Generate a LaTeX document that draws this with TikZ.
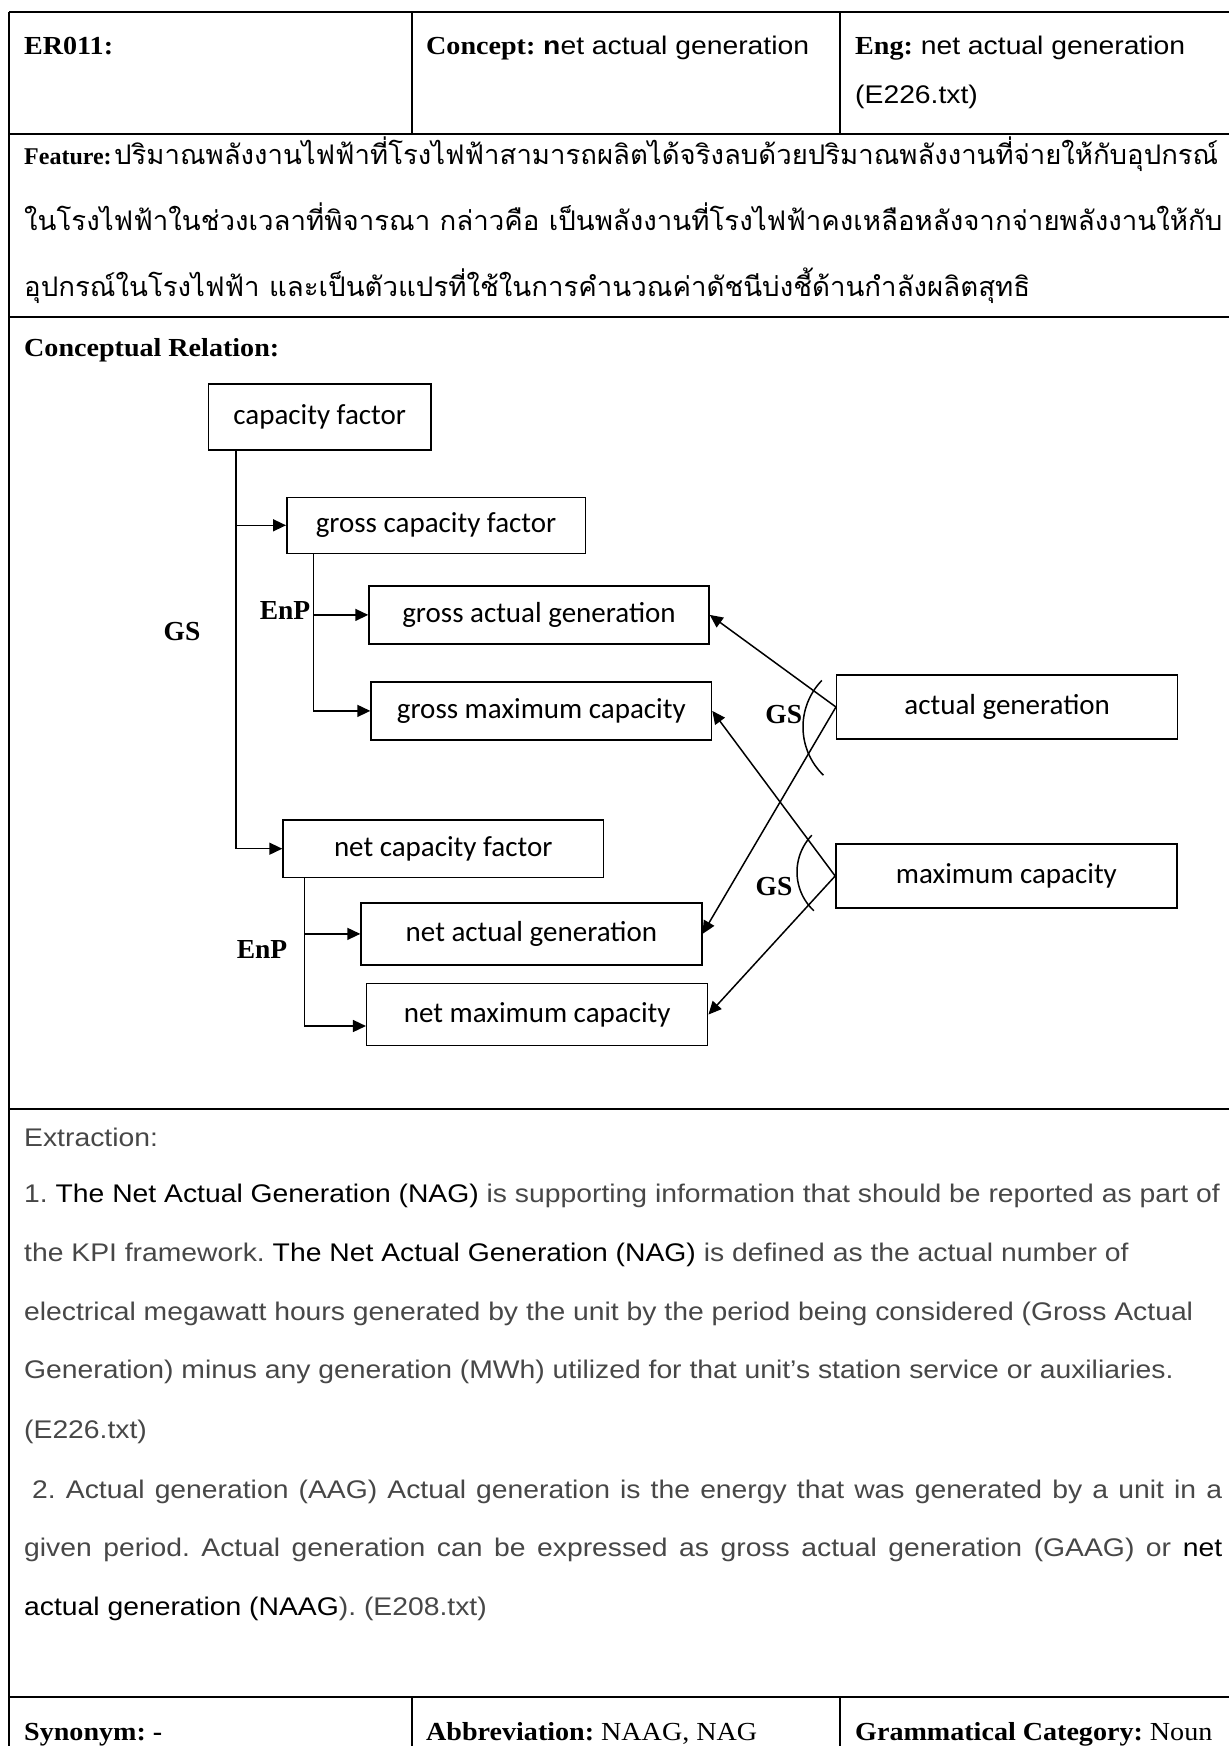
\documentclass[tikz,border=0pt]{standalone}
\usepackage{fontspec}
\usepackage{graphicx}
\usetikzlibrary{arrows.meta}
\setmainfont{Liberation Serif}
\newfontfamily\fSerif[FakeStretch=1.08]{Liberation Serif}
\newfontfamily\fSans[FakeStretch=1.11]{Liberation Sans}
\newfontfamily\fCal{Carlito}
\newfontfamily\fThai[Script=Thai]{Loma}

% set a one-line text and scale it horizontally to a given width (in pt)
\newlength\fitlen
\newcommand\fitto[2]{%
  \settowidth\fitlen{#2}%
  \pgfmathsetmacro\fitfac{#1/\fitlen}%
  \scalebox{\fitfac}[1]{#2}}

\colorlet{extgray}{black!72}
\newcommand\hdB[1]{{\fSerif\bfseries\fontsize{26}{30}\selectfont #1}}
\newcommand\blk[1]{\textcolor{black}{#1}}
\newcommand\thaiA{\fThai\fontsize{27}{30}\selectfont}
\newcommand\featTwo{ในโรงไฟฟ้าในช่วงเวลาที่พิจารณา กล่าวคือ เป็นพลังงานที่โรงไฟฟ้าคงเหลือหลังจากจ่ายพลังงานให้กับ}

\tikzset{
  tbl/.style={line width=1.5pt},
  txt/.style={inner sep=0pt, anchor=base west},
  sans/.style={font=\fSans\fontsize{25.5}{30}\selectfont},
  serif/.style={font=\fSerif\fontsize{26}{30}\selectfont},
  cbox/.style={draw, line width=1.5pt, inner sep=0pt,
    font=\fCal\fontsize{29}{32}\selectfont},
  rel/.style={inner sep=0pt, font=\bfseries\fontsize{27.5}{30}\selectfont},
  link/.style={line width=1.5pt},
  arr/.style={link, -{Triangle[length=13pt,width=12pt]}},
}

\begin{document}
\frenchspacing
% common horizontal factor for the Thai lines
\settowidth\fitlen{\thaiA\featTwo}%
\pgfmathsetmacro\thaifac{1198/\fitlen}%
\begin{tikzpicture}[x=1pt,y=-1pt]
\useasboundingbox (0,0) rectangle (1229,1746);

% ---- table rules ----
\draw[tbl] (9,12) -- (1229,12);
\draw[tbl] (9,12) -- (9,1746);
\foreach \yy in {134,317,1109,1697} \draw[tbl] (9,\yy) -- (1229,\yy);
\draw[tbl] (412,12) -- (412,134);
\draw[tbl] (840,12) -- (840,134);
\draw[tbl] (412,1697) -- (412,1746);
\draw[tbl] (840,1697) -- (840,1746);

% ---- header row ----
\node[txt, serif] (id) at (24,54) {\hdB{ER011:}};
\node[txt, sans] (concept) at (426,54) {\hdB{Concept:} {\bfseries n}et actual generation};
\node[txt, sans] (eng) at (855,54) {\hdB{Eng:} net actual generation};
\node[txt, sans] (engsrc) at (855,103) {(E226.txt)};

% ---- feature row ----
\node[txt] (feat1) at (24,164) {{\bfseries\fontsize{24}{28}\selectfont Feature:} \fitto{1104}{\thaiA ปริมาณพลังงานไฟฟ้าที่โรงไฟฟ้าสามารถผลิตได้จริงลบด้วยปริมาณพลังงานที่จ่ายให้กับอุปกรณ์}};
\node[txt] (feat2) at (24,230) {\scalebox{\thaifac}[1]{\thaiA\featTwo}};
\node[txt] (feat3) at (24,296) {\scalebox{\thaifac}[1]{\thaiA อุปกรณ์ในโรงไฟฟ้า และเป็นตัวแปรที่ใช้ในการคำนวณค่าดัชนีบ่งชี้ด้านกำลังผลิตสุทธิ}};

% ---- conceptual relation row ----
\node[txt, serif] (crel) at (24,356) {\bfseries Conceptual Relation:};

\node[cbox, minimum width=222.7pt, minimum height=66.3pt] (cf)  at (319.7,416.9) {capacity factor};
\node[cbox, minimum width=298.5pt, minimum height=56pt]   (gcf) at (436,525.3)   {gross capacity factor};
\node[cbox, minimum width=340pt,   minimum height=58.3pt] (gag) at (539,614.9)   {gross actual generation};
\node[cbox, minimum width=340.5pt, minimum height=58.3pt] (gmc) at (541.3,710.9) {gross maximum capacity};
\node[cbox, minimum width=320.3pt, minimum height=57.3pt] (ncf) at (443.2,848.7) {net capacity factor};
\node[cbox, minimum width=340.7pt, minimum height=62.3pt] (nag) at (531.4,933.9) {net actual generation};
\node[cbox, minimum width=341pt,   minimum height=62.4pt] (nmc) at (537.2,1014.5) {net maximum capacity};
\node[cbox, minimum width=341pt,   minimum height=64pt]   (ag)  at (1007.2,707)  {actual generation};
\node[cbox, minimum width=341pt,   minimum height=64pt]   (mc)  at (1006.4,876)  {maximum capacity};

% branch lines on the left
\coordinate (gsx) at (236,0);
\coordinate (e1x) at (313.5,0);
\coordinate (e2x) at (304.7,0);
\draw[arr] (cf.south -| gsx) |- (ncf.west);
\draw[arr] (gsx |- gcf.west) -- (gcf.west);
\draw[arr] (gcf.south -| e1x) |- (gmc.west);
\draw[arr] (e1x |- gag.west) -- (gag.west);
\draw[arr] (ncf.south -| e2x) |- ([yshift=-11.5pt]nmc.west);
\draw[arr] (e2x |- nag.west) -- (nag.west);

% relations from the generic concepts on the right
\draw[arr] (ag.west) -- (gag.east);
\draw[arr] (ag.west) -- (nag.east);
\draw[arr] (mc.west) -- (gmc.east);
\draw[arr] (mc.west) -- (nmc.east);

% arcs grouping the pairs of relations
\coordinate (arcA) at (870,727);
\coordinate (arcB) at (850,872);
\draw[link] (arcA) ++(134:67) arc[start angle=134, end angle=224, radius=67];
\draw[link] (arcB) ++(133:53) arc[start angle=133, end angle=224, radius=53];

% relation labels
\node[rel] (gs1) at (182,632) {GS};
\node[rel] (enp1) at (285,610) {EnP};
\node[rel] (enp2) at (262,949) {EnP};
\node[rel] (gs2) at (783.7,714.5) {GS};
\node[rel] (gs3) at (774,886.7) {GS};

% ---- extraction row ----
\begin{scope}[every node/.style={txt, sans, text=extgray}]
\node (ex0) at (24,1146) {Extraction:};
\node (ex1) at (24,1202) {1. \blk{The Net Actual Generation (NAG)} is supporting information that should be reported as part of};
\node (ex2) at (24,1261) {the KPI framework. \blk{The Net Actual Generation (NAG)} is defined as the actual number of};
\node (ex3) at (24,1320) {electrical megawatt hours generated by the unit by the period being considered (Gross Actual};
\node (ex4) at (24,1378) {Generation) minus any generation (MWh) utilized for that unit’s station service or auxiliaries.};
\node (ex5) at (24,1438) {(E226.txt)};
\node (ex6) at (32,1498) {\makebox[1190pt][s]{2. Actual generation (AAG) Actual generation is the energy that was generated by a unit in a}};
\node (ex7) at (24,1556) {\makebox[1198pt][s]{given period. Actual generation can be expressed as gross actual generation (GAAG) or \blk{net}}};
\node (ex8) at (24,1615) {\blk{actual generation (NAAG}). (E208.txt)};
\end{scope}

% ---- bottom row ----
\node[txt, serif] (syn) at (24,1740) {\bfseries Synonym: -};
\node[txt, serif] (abbr) at (426,1740) {\textbf{Abbreviation:} NAAG, NAG};
\node[txt, serif] (gram) at (855,1740) {\textbf{Grammatical Category:} Noun};
\end{tikzpicture}
\end{document}
